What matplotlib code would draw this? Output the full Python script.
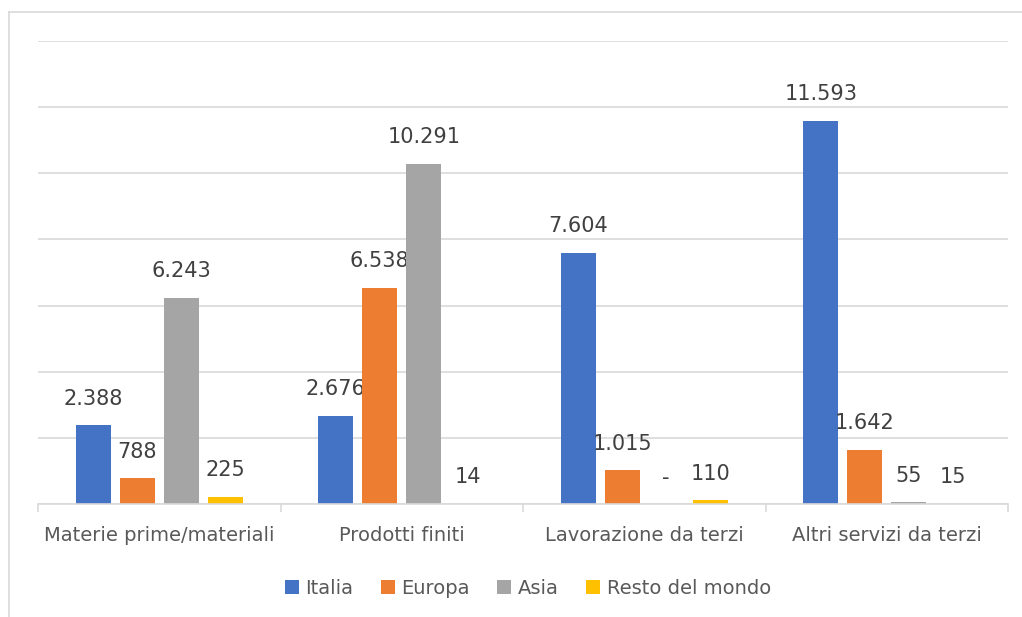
import matplotlib
matplotlib.use("Agg")
import matplotlib.pyplot as plt
import numpy as np
from matplotlib.lines import Line2D

plt.rcParams['font.family'] = ['DejaVu Sans']

categories = ["Materie prime/materiali", "Prodotti finiti", "Lavorazione da terzi", "Altri servizi da terzi"]
series = ["Italia", "Europa", "Asia", "Resto del mondo"]
italia = [2388, 2676, 7604, 11593]
europa = [788, 6538, 1015, 1642]
asia = [6243, 10291, 0, 55]
resto = [225, 14, 110, 15]
labels = [
    ["2.388", "2.676", "7.604", "11.593"],
    ["788", "6.538", "1.015", "1.642"],
    ["6.243", "10.291", "-", "55"],
    ["225", "14", "110", "15"],
]
colors = ["#4472C4", "#ED7D31", "#A5A5A5", "#FFC000"]

fig = plt.figure(figsize=(10.22, 6.17), dpi=100)
ax = fig.add_axes([38/1022, 1-504/617, (1008-38)/1022, (504-41)/617])

# chart frame (only top and left edges visible)
fig.add_artist(Line2D([9/1022, 1.0], [1-12/617, 1-12/617], color="#d9d9d9", lw=1.2, transform=fig.transFigure))
fig.add_artist(Line2D([9/1022, 9/1022], [0, 1-12/617], color="#d9d9d9", lw=1.2, transform=fig.transFigure))

x = np.arange(len(categories))
width = 0.144
step = 0.181
data = [italia, europa, asia, resto]
for i, (vals, col, name) in enumerate(zip(data, colors, series)):
    pos = x + (i - 1.5) * step
    ax.bar(pos, vals, width, color=col, label=name, zorder=3)
    for p, v, t in zip(pos, vals, labels[i]):
        ax.annotate(t, (p, v), xytext=(0, 19), textcoords="offset points",
                    ha="center", va="center", fontsize=15, color="#404040")

ax.set_xlim(-0.5, len(categories) - 0.5)
ax.set_ylim(0, 14000)
ax.set_yticks(np.arange(0, 14001, 2000))
ax.yaxis.grid(True, color="#d9d9d9", lw=1.2, zorder=0)
ax.tick_params(axis="y", length=0, labelleft=False)
for s in ["top", "right", "left"]:
    ax.spines[s].set_visible(False)
ax.spines["bottom"].set_color("#d9d9d9")
ax.spines["bottom"].set_linewidth(1.2)
ax.spines["bottom"].set_zorder(4)

ax.set_xticks(np.arange(-0.5, len(categories)), minor=False)
ax.set_xticklabels([])
ax.tick_params(axis="x", length=6, color="#d9d9d9", width=1.2)
ax.set_xticks(x, minor=True)
ax.set_xticklabels(categories, minor=True, fontsize=14, color="#595959")
ax.tick_params(axis="x", which="minor", length=0, pad=16)

leg = ax.legend(loc="upper center", bbox_to_anchor=(0.505, -0.124), ncol=4, frameon=False,
                fontsize=14, handlelength=0.72, handleheight=0.72, columnspacing=1.4,
                handletextpad=0.35, labelcolor="#595959")

fig.savefig("out.png", dpi=100, facecolor="white")
